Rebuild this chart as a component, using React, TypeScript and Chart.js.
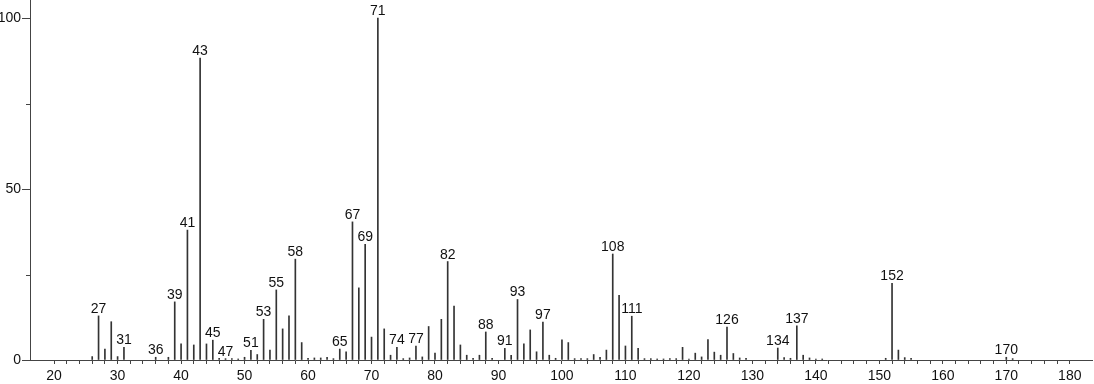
import React, { useEffect, useRef } from "react";
import { Chart, registerables } from "chart.js";

Chart.register(...registerables);

const mzValues: number[] = [
  26, 27, 28, 29, 30, 31, 36, 38, 39, 40, 41, 42, 43, 44, 45, 46, 47, 48, 49, 50,
  51, 52, 53, 54, 55, 56, 57, 58, 59, 60, 61, 62, 63, 64, 65, 66, 67, 68, 69, 70,
  71, 72, 73, 74, 75, 76, 77, 78, 79, 80, 81, 82, 83, 84, 85, 86, 87, 88, 89, 91,
  92, 93, 94, 95, 96, 97, 98, 99, 100, 101, 102, 103, 104, 105, 106, 107, 108, 109, 110, 111,
  112, 113, 114, 115, 116, 117, 118, 119, 120, 121, 122, 123, 124, 125, 126, 127, 128, 129, 134, 135,
  136, 137, 138, 139, 140, 141, 151, 152, 153, 154, 155, 170, 171,
];

const intensities: number[] = [
  1.0, 12.9, 3.2, 11.2, 1.0, 3.7, 0.8, 0.8, 17.0, 4.7, 38.0, 4.4, 88.3, 4.7, 5.8, 0.5, 0.4, 0.4, 0.3, 0.8,
  2.8, 1.6, 11.9, 2.9, 20.5, 9.1, 12.9, 29.5, 5.1, 0.5, 0.6, 0.6, 0.8, 0.4, 3.2, 2.4, 40.4, 21.1, 33.8, 6.7,
  100, 9.1, 1.4, 3.7, 0.4, 0.6, 4.1, 0.9, 9.8, 2.0, 11.9, 28.8, 15.8, 4.4, 1.4, 0.5, 1.4, 8.2, 0.5, 3.4,
  1.4, 17.7, 4.7, 8.8, 2.4, 11.1, 1.4, 0.5, 5.9, 5.1, 0.4, 0.4, 0.4, 1.6, 0.8, 2.9, 31.0, 18.9, 4.1, 12.8,
  3.4, 0.4, 0.4, 0.3, 0.3, 0.4, 0.4, 3.7, 0.3, 2.0, 0.9, 6.0, 2.3, 1.4, 9.6, 1.9, 0.6, 0.5, 3.5, 0.7,
  0.5, 10.0, 1.4, 0.6, 0.3, 0.3, 0.5, 22.4, 2.9, 0.7, 0.5, 0.8, 0.4,
];

const labeledPeaks: number[] = [
  27, 31, 36, 39, 41, 43, 45, 47, 51, 53, 55, 58, 65, 67, 69, 71, 74, 77, 82, 88,
  91, 93, 97, 108, 111, 126, 134, 137, 152, 170,
];

const yTickValues: number[] = [0, 25, 50, 75, 100];
const xTickValues: number[] = [];
for (let v = 20; v <= 180; v += 2) xTickValues.push(v);

const FONT_FAMILY = '"Liberation Sans", Arial, Helvetica, sans-serif';

export default function App() {
  const canvasRef = useRef<HTMLCanvasElement | null>(null);

  useEffect(() => {
    if (!canvasRef.current) return;

    const peakLabelPlugin = {
      id: "peakLabels",
      afterDatasetsDraw(chart: any) {
        const ctx = chart.ctx;
        const xs = chart.scales.x;
        const ys = chart.scales.y;
        ctx.save();
        ctx.font = `14px ${FONT_FAMILY}`;
        ctx.fillStyle = "#111";
        ctx.textAlign = "center";
        ctx.textBaseline = "alphabetic";
        labeledPeaks.forEach((mz) => {
          const i = mzValues.indexOf(mz);
          if (i < 0) return;
          const x = xs.getPixelForValue(mz);
          const y = ys.getPixelForValue(intensities[i]) - 3;
          ctx.fillText(String(mz), x, y);
        });
        ctx.restore();
      },
      afterDraw(chart: any) {
        const ctx = chart.ctx;
        const ys = chart.scales.y;
        const left = chart.chartArea.left;
        ctx.save();
        ctx.strokeStyle = "#444";
        ctx.lineWidth = 1;
        yTickValues.forEach((v) => {
          const y = Math.round(ys.getPixelForValue(v)) + 0.5;
          const len = v % 50 === 0 ? 8 : 4;
          ctx.beginPath();
          ctx.moveTo(left - len, y);
          ctx.lineTo(left, y);
          ctx.stroke();
        });
        ctx.restore();
      },
    };

    const chart = new Chart(canvasRef.current, {
      type: "bar",
      data: {
        datasets: [
          {
            data: mzValues.map((mz, i) => ({ x: mz, y: intensities[i] })),
            backgroundColor: "#333",
            borderWidth: 0,
            barThickness: 1,
          },
        ],
      },
      options: {
        responsive: false,
        animation: false,
        layout: { padding: { left: 0, right: 2, top: 0, bottom: 0 } },
        plugins: {
          legend: { display: false },
          tooltip: { enabled: false },
        },
        scales: {
          x: {
            type: "linear",
            offset: false,
            min: 16.2,
            max: 183.5,
            afterBuildTicks: (scale: any) => {
              scale.ticks = xTickValues.map((v) => ({ value: v }));
            },
            afterFit: (scale: any) => {
              scale.height = 24;
              scale.paddingLeft = 0;
              scale.paddingRight = 0;
              scale.paddingTop = 0;
              scale.paddingBottom = 0;
            },
            ticks: {
              autoSkip: false,
              maxRotation: 0,
              padding: 4,
              color: "#111",
              font: { family: FONT_FAMILY, size: 14 },
              callback: (v: any) => (Number(v) % 10 === 0 ? String(v) : ""),
            },
            grid: {
              offset: false,
              drawOnChartArea: false,
              drawTicks: true,
              tickLength: 4,
              tickColor: "#444",
            },
            border: { color: "#444", width: 1 },
          },
          y: {
            type: "linear",
            min: 0,
            max: 105.3,
            afterBuildTicks: (scale: any) => {
              scale.ticks = yTickValues.map((v) => ({ value: v }));
            },
            afterFit: (scale: any) => {
              scale.width = 30;
              scale.paddingLeft = 0;
              scale.paddingRight = 0;
              scale.paddingTop = 0;
              scale.paddingBottom = 0;
            },
            ticks: {
              autoSkip: false,
              padding: 9,
              color: "#111",
              font: { family: FONT_FAMILY, size: 14 },
              callback: (v: any) => (Number(v) % 50 === 0 ? String(v) : ""),
            },
            grid: {
              drawOnChartArea: false,
              drawTicks: false,
            },
            border: { color: "#444", width: 1 },
          },
        },
      },
      plugins: [peakLabelPlugin],
    });

    return () => {
      chart.destroy();
    };
  }, []);

  return (
    <div style={{ position: "fixed", left: 0, top: 0, width: 1094, height: 384, background: "#fff" }}>
      <canvas ref={canvasRef} width={1094} height={384} />
    </div>
  );
}
